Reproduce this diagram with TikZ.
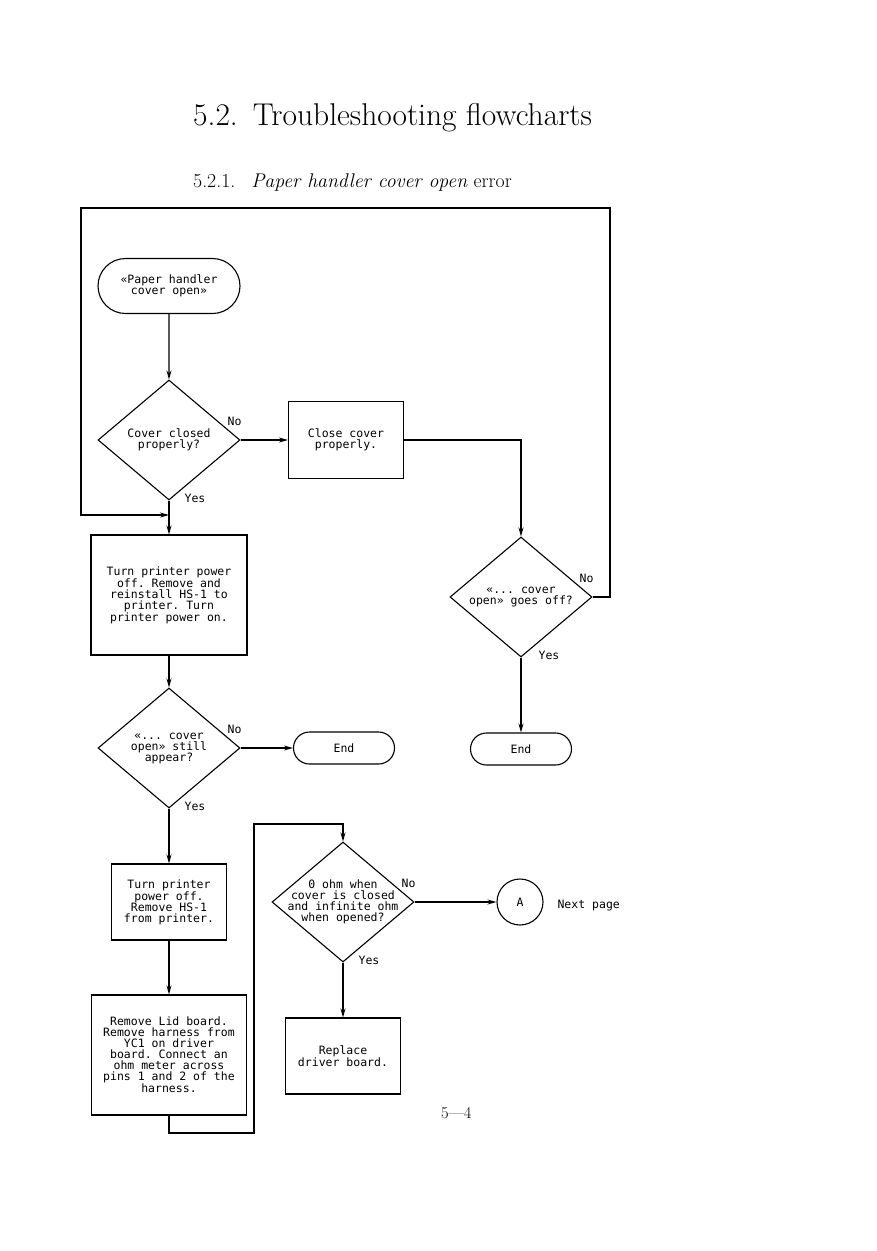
\documentclass[tikz,border=0pt]{standalone}
\usepackage{fontspec}
\setmonofont{DejaVu Sans Mono}
\usetikzlibrary{shapes.geometric,shapes.misc,arrows.meta}

\begin{document}
\begin{tikzpicture}[x=1pt,y=-1pt,
 chart/.style={font=\ttfamily\fontsize{11.5}{11}\selectfont, align=center, line width=1.1pt},
 terminal/.style={chart, draw, rounded rectangle, inner sep=0pt},
 process/.style={chart, draw, rectangle, inner sep=0pt},
 decision/.style={chart, draw, diamond, inner sep=0pt, minimum width=142, minimum height=120},
 connector/.style={chart, draw, circle, inner sep=0pt, minimum size=46},
 lbl/.style={chart, inner sep=0pt},
 flow/.style={line width=1.1pt, -{Stealth[length=9pt,width=5pt]}}]
 \useasboundingbox[fill=white] (0,0) rectangle (876,1251);
 %
 \node[anchor=base west, inner sep=0pt, font=\fontsize{31.5}{36}\selectfont] (title) at (193,125) {5.2.\hspace{15pt}Troubleshooting flowcharts};
 \node[anchor=base west, inner sep=0pt, font=\fontsize{19.8}{24}\selectfont] (subtitle) at (193,187) {5.2.1.\hspace{16pt}\textit{Paper handler cover open} error};
 \node[anchor=base west, inner sep=0pt, font=\fontsize{16.5}{20}\selectfont] (pagenum) at (441,1118) {5---4};
 %
 \node[terminal, minimum width=142, minimum height=55] (start) at (169,286) {«Paper handler\\cover open»};
 \node[decision, label={[chart]center:{Cover closed\\properly?}}] (d1) at (169,440) {};
 \node[process, minimum width=115, minimum height=77] (close) at (346,440) {Close cover\\properly.};
 \node[decision, label={[chart]center:{«... cover\\open» goes off?}}] (d2) at (521,597) {};
 \node[terminal, minimum width=101, minimum height=32] (end2) at (521,749) {End};
 %
 \node[process, minimum width=156, minimum height=120] (power) at (169,595) {Turn printer power\\off. Remove and\\reinstall HS-1 to\\printer. Turn\\printer power on.};
 \node[decision, label={[chart]center:{«... cover\\open» still\\appear?}}] (d3) at (169,748) {};
 \node[terminal, minimum width=101, minimum height=32] (end1) at (344,748) {End};
 %
 \node[process, minimum width=115, minimum height=76] (remove) at (169,902) {Turn printer\\power off.\\Remove HS-1\\from printer.};
 \node[process, minimum width=155, minimum height=120] (lid) at (169,1055) {Remove Lid board.\\Remove harness from\\YC1 on driver\\board. Connect an\\ohm meter across\\pins 1 and 2 of the\\harness.};
 \node[decision, label={[chart]center:{0 ohm when\\cover is closed\\and infinite ohm\\when opened?}}] (d4) at (343,902) {};
 \node[connector] (a) at (520,902) {A};
 \node[lbl, anchor=west] (next) at (557,906) {Next page};
 \node[process, minimum width=115, minimum height=76] (driver) at (343,1056) {Replace\\driver board.};
 %
 \node[lbl] (d1no) at ([shift={(-6,-19)}]d1.east) {No};
 \node[lbl] (d1yes) at ([shift={(26,-2)}]d1.south) {Yes};
 \node[lbl] (d2no) at ([shift={(-6,-19)}]d2.east) {No};
 \node[lbl] (d2yes) at ([shift={(28,-2)}]d2.south) {Yes};
 \node[lbl] (d3no) at ([shift={(-6,-19)}]d3.east) {No};
 \node[lbl] (d3yes) at ([shift={(26,-2)}]d3.south) {Yes};
 \node[lbl] (d4no) at ([shift={(-6,-19)}]d4.east) {No};
 \node[lbl] (d4yes) at ([shift={(26,-2)}]d4.south) {Yes};
 %
 \coordinate (fr) at (610,208);
 \coordinate (fl) at (81,208);
 \coordinate (join) at (169,515);
 \coordinate (lo) at (254,1133);
 \coordinate (hi) at (254,824);
 %
 \draw[flow] (start) -- (d1);
 \draw[flow] (d1.east) -- (close.west);
 \draw[flow] (close.east) -| (d2.north);
 \draw[flow] (d2.east) -| (fr) -- (fl) |- (join);
 \draw[flow] (d2.south) -- (end2.north);
 %
 \draw[flow] (d1.south) -- (power.north);
 \draw[flow] (power.south) -- (d3.north);
 \draw[flow] (d3.east) -- (end1.west);
 \draw[flow] (d3.south) -- (remove.north);
 %
 \draw[flow] (remove.south) -- (lid.north);
 \draw[flow] (lid.south) |- (lo) -- (hi) -| (d4.north);
 \draw[flow] (d4.east) -- (a.west);
 \draw[flow] (d4.south) -- (driver.north);
\end{tikzpicture}
\end{document}
